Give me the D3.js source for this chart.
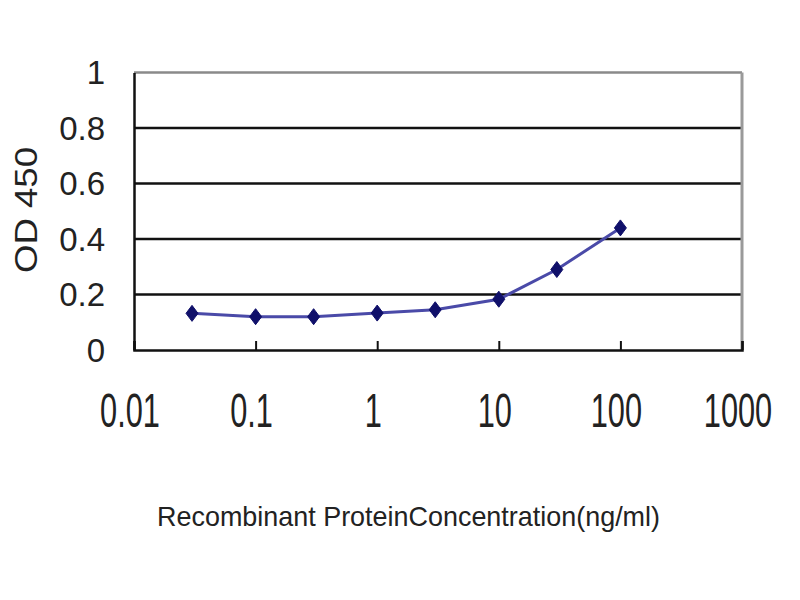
<!DOCTYPE html>
<html>
<head>
<meta charset="utf-8">
<script src="https://cdn.jsdelivr.net/npm/d3@7"></script>
<style>
  html, body { margin: 0; padding: 0; background: #fff; }
  svg { display: block; }
  text { font-family: "Liberation Sans", Arial, sans-serif; fill: #222; }
</style>
</head>
<body>
<svg id="chart" width="800" height="600"></svg>
<script>
// ---- data ----
const concentrations = [0.03, 0.1, 0.3, 1, 3, 10, 30, 100];
const odValues = [0.132, 0.12, 0.12, 0.133, 0.145, 0.183, 0.29, 0.44];
const xTicks = [0.01, 0.1, 1, 10, 100, 1000];
const xTickLabels = ["0.01", "0.1", "1", "10", "100", "1000"];
const yTicks = [0, 0.2, 0.4, 0.6, 0.8, 1];
const yTickLabels = ["0", "0.2", "0.4", "0.6", "0.8", "1"];
const xTitle = "Recombinant ProteinConcentration(ng/ml)";
const yTitle = "OD 450";

// ---- layout ----
const L = 134, R = 742, T = 72.5, B = 350;
const svg = d3.select("#chart");

const x = d3.scaleLog().domain([0.01, 1000]).range([L, R]);
const y = d3.scaleLinear().domain([0, 1]).range([B, T]);

// gridlines (interior)
svg.append("g")
  .selectAll("line")
  .data(yTicks.filter(v => v > 0 && v < 1))
  .join("line")
  .attr("x1", L).attr("x2", R)
  .attr("y1", d => y(d)).attr("y2", d => y(d))
  .attr("stroke", "#111").attr("stroke-width", 2.5);

// top and right borders (grey)
svg.append("line").attr("x1", L).attr("x2", R).attr("y1", y(1)).attr("y2", y(1))
  .attr("stroke", "#8a8a8a").attr("stroke-width", 2.5);
svg.append("line").attr("x1", R).attr("x2", R).attr("y1", y(1)).attr("y2", y(0))
  .attr("stroke", "#9a9a9a").attr("stroke-width", 3);

// x axis (bottom) with inward ticks
const xAxis = d3.axisBottom(x).tickValues(xTicks).tickSize(-9).tickFormat("");
const gx = svg.append("g").attr("transform", `translate(0,${B})`).call(xAxis);
gx.select(".domain").attr("stroke", "#111").attr("stroke-width", 2.5);
gx.selectAll(".tick line").attr("stroke", "#111").attr("stroke-width", 2);

// y axis (left)
const yAxis = d3.axisLeft(y).tickValues(yTicks).tickSize(0).tickFormat("");
const gy = svg.append("g").attr("transform", `translate(${L},0)`).call(yAxis);
gy.select(".domain").attr("stroke", "#111").attr("stroke-width", 2.5);

// y tick labels
svg.append("g")
  .selectAll("text")
  .data(yTicks)
  .join("text")
  .attr("x", 105)
  .attr("y", d => y(d))
  .attr("dy", "0.36em")
  .attr("text-anchor", "end")
  .attr("font-size", 33)
  .text((d, i) => yTickLabels[i]);

// x tick labels (tall, condensed)
svg.append("g")
  .selectAll("text")
  .data(xTicks)
  .join("text")
  .attr("transform", d => `translate(${x(d) - 4},427) scale(0.64,1)`)
  .attr("text-anchor", "middle")
  .attr("font-size", 48)
  .text((d, i) => xTickLabels[i]);

// axis titles
svg.append("text")
  .attr("transform", "translate(37,210) rotate(-90)")
  .attr("text-anchor", "middle")
  .attr("font-size", 31)
  .attr("textLength", 126)
  .attr("lengthAdjust", "spacingAndGlyphs")
  .text(yTitle);

svg.append("text")
  .attr("x", 157)
  .attr("y", 526)
  .attr("font-size", 28)
  .attr("textLength", 503)
  .attr("lengthAdjust", "spacingAndGlyphs")
  .text(xTitle);

// series line
const pts = concentrations.map((c, i) => [c, odValues[i]]);
svg.append("path")
  .datum(pts)
  .attr("fill", "none")
  .attr("stroke", "#4a4aa8")
  .attr("stroke-width", 3)
  .attr("d", d3.line().x(d => x(d[0])).y(d => y(d[1])));

// diamond markers
svg.append("g")
  .selectAll("path")
  .data(pts)
  .join("path")
  .attr("transform", d => `translate(${x(d[0])},${y(d[1])})`)
  .attr("d", "M0,-8L6,0L0,8L-6,0Z")
  .attr("fill", "#10106a")
  .attr("stroke", "#10106a")
  .attr("stroke-width", 1);
</script>
</body>
</html>
